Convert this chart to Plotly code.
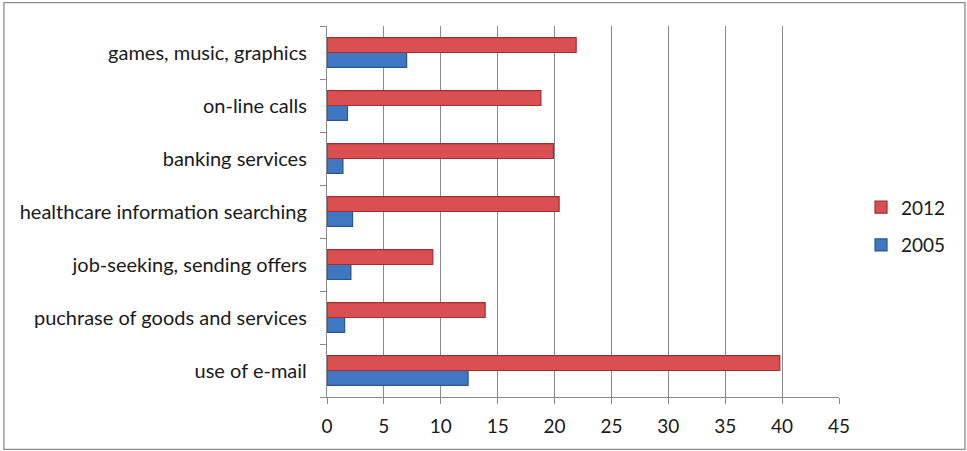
import plotly.graph_objs as go

# Categories from bottom to top
categories = [
    "use of e-mail",
    "puchrase of goods and services",
    "job-seeking, sending offers",
    "healthcare information searching",
    "banking services",
    "on-line calls",
    "games, music, graphics",
]
values_2012 = [39.8, 13.9, 9.3, 20.4, 19.9, 18.8, 21.9]
values_2005 = [12.4, 1.55, 2.1, 2.25, 1.4, 1.8, 7.0]
x_ticks = [0, 5, 10, 15, 20, 25, 30, 35, 40, 45]

font_name = "Lato, Open Sans, sans-serif"

fig = go.Figure()

# 2005 first so it sits below 2012 inside each group
fig.add_trace(
    go.Bar(
        y=categories,
        x=values_2005,
        orientation="h",
        name="2005",
        legendgroup="2005",
        legendrank=2,
        marker=dict(color="#3F78C2", line=dict(color="#2B5690", width=1.2)),
    )
)
fig.add_trace(
    go.Bar(
        y=categories,
        x=values_2012,
        orientation="h",
        name="2012",
        legendgroup="2012",
        legendrank=1,
        marker=dict(color="#DA4F52", line=dict(color="#9E3033", width=1.2)),
    )
)

fig.update_layout(
    width=967,
    height=451,
    barmode="group",
    bargap=0.435,
    bargroupgap=0,
    plot_bgcolor="white",
    paper_bgcolor="white",
    margin=dict(l=327, r=128, t=26, b=53.5),
    font=dict(family=font_name, size=20, color="#1a1a1a"),
    legend=dict(
        x=1.043,
        y=0.46,
        yanchor="middle",
        xanchor="left",
        traceorder="grouped",
        tracegroupgap=10,
        font=dict(size=19),
        itemwidth=30,
    ),
    xaxis=dict(
        range=[0, 45],
        tickvals=x_ticks,
        showgrid=True,
        gridcolor="#8a8a8a",
        gridwidth=1.3,
        showline=True,
        linecolor="#8a8a8a",
        linewidth=1.3,
        ticks="outside",
        ticklen=6,
        tickcolor="#8a8a8a",
        tickfont=dict(size=19),
        ticklabelstandoff=6,
        zeroline=False,
    ),
    yaxis=dict(
        type="category",
        categoryorder="array",
        categoryarray=categories,
        showgrid=False,
        showline=True,
        linecolor="#8a8a8a",
        linewidth=1.3,
        ticks="outside",
        tickson="boundaries",
        ticklen=6,
        tickcolor="#8a8a8a",
        tickfont=dict(size=20),
        ticklabelstandoff=15,
    ),
)

# Outer chart border
fig.add_shape(
    type="rect",
    xref="paper",
    yref="paper",
    x0=-0.631,
    x1=1.246,
    y0=-0.1413,
    y1=1.0632,
    line=dict(color="#8c8c8c", width=1.3),
    fillcolor="rgba(0,0,0,0)",
    layer="below",
)

fig.write_html(
    "out.html",
    config={"displayModeBar": False},
    post_script="document.body.style.margin='0';",
)
